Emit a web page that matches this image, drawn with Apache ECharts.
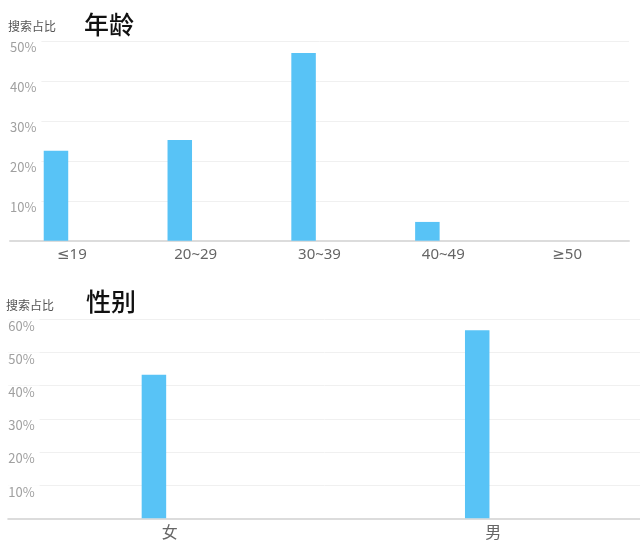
<!DOCTYPE html>
<html>
<head>
<meta charset="utf-8">
<script src="https://cdn.jsdelivr.net/npm/echarts@6/dist/echarts.min.js"></script>
<style>
html,body{margin:0;padding:0;background:#fff;}
#chart{width:640px;height:554px;}
</style>
</head>
<body>
<div id="chart"></div>
<script>
const ageCategories = ['≤19', '20~29', '30~39', '40~49', '≥50'];
const ageValues = [22.5, 25.2, 47.0, 4.7, 0];
const genderCategories = ['女', '男'];
const genderValues = [43.3, 56.7];
const ageMax = 50;
const genderMax = 60;
const tickStep = 10;

const FONT = '"Noto Sans CJK SC", "Noto Sans", sans-serif';
const XFONT = '"Noto Sans", "DejaVu Sans", "Noto Sans CJK SC", sans-serif';
const BAR = '#58c3f6';

function yAxisCfg(gi, max) {
  return {
    gridIndex: gi, type: 'value', min: 0, max: max, interval: tickStep,
    axisLine: {show: false}, axisTick: {show: false},
    splitLine: {lineStyle: {color: '#f0f0f0', width: 1}},
    axisLabel: {
      inside: true, margin: 0, showMinLabel: false,
      formatter: v => v + '%',
      color: '#a0a0a0', fontSize: 13, fontFamily: FONT,
      verticalAlign: 'top', lineHeight: 13,
      backgroundColor: '#fff', padding: [0, 5, 0, 0]
    }
  };
}
function xAxisCfg(gi, cats, fs, margin, ff) {
  return {
    gridIndex: gi, type: 'category', data: cats,
    axisLine: {lineStyle: {color: '#dcdcdc', width: 2}},
    axisTick: {show: false},
    axisLabel: {color: '#666', fontSize: fs, fontFamily: ff, margin: margin}
  };
}

const chart = echarts.init(document.getElementById('chart'), null, {renderer: 'canvas'});
chart.setOption({
  animation: false,
  backgroundColor: '#fff',
  grid: [
    {left: 10, width: 619, top: 41, height: 199.7, containLabel: false, outerBoundsMode: 'none'},
    {left: 8.2, width: 646.6, top: 319.3, height: 199, containLabel: false, outerBoundsMode: 'none'}
  ],
  xAxis: [
    xAxisCfg(0, ageCategories, 15, 7, XFONT),
    xAxisCfg(1, genderCategories, 16, 6, FONT)
  ],
  yAxis: [
    yAxisCfg(0, ageMax),
    yAxisCfg(1, genderMax)
  ],
  series: [
    {type: 'bar', xAxisIndex: 0, yAxisIndex: 0, data: ageValues, barWidth: 24.5, barGap: '30%', itemStyle: {color: BAR}},
    {type: 'bar', xAxisIndex: 0, yAxisIndex: 0, data: [], barWidth: 24.5, itemStyle: {color: BAR}},
    {type: 'bar', xAxisIndex: 1, yAxisIndex: 1, data: genderValues, barWidth: 24.5, barGap: '30%', itemStyle: {color: BAR}},
    {type: 'bar', xAxisIndex: 1, yAxisIndex: 1, data: [], barWidth: 24.5, itemStyle: {color: BAR}}
  ],
  graphic: [
    {type: 'text', x: 8, y: 26, z: 100, style: {text: '搜索占比', fill: '#555', font: '12px ' + FONT, verticalAlign: 'middle'}},
    {type: 'text', x: 84, y: 24, z: 100, style: {text: '年龄', fill: '#111', font: '500 25px ' + FONT, verticalAlign: 'middle'}},
    {type: 'text', x: 6, y: 305, z: 100, style: {text: '搜索占比', fill: '#555', font: '12px ' + FONT, verticalAlign: 'middle'}},
    {type: 'text', x: 86, y: 301, z: 100, style: {text: '性别', fill: '#111', font: '500 25px ' + FONT, verticalAlign: 'middle'}}
  ]
});
</script>
</body>
</html>
